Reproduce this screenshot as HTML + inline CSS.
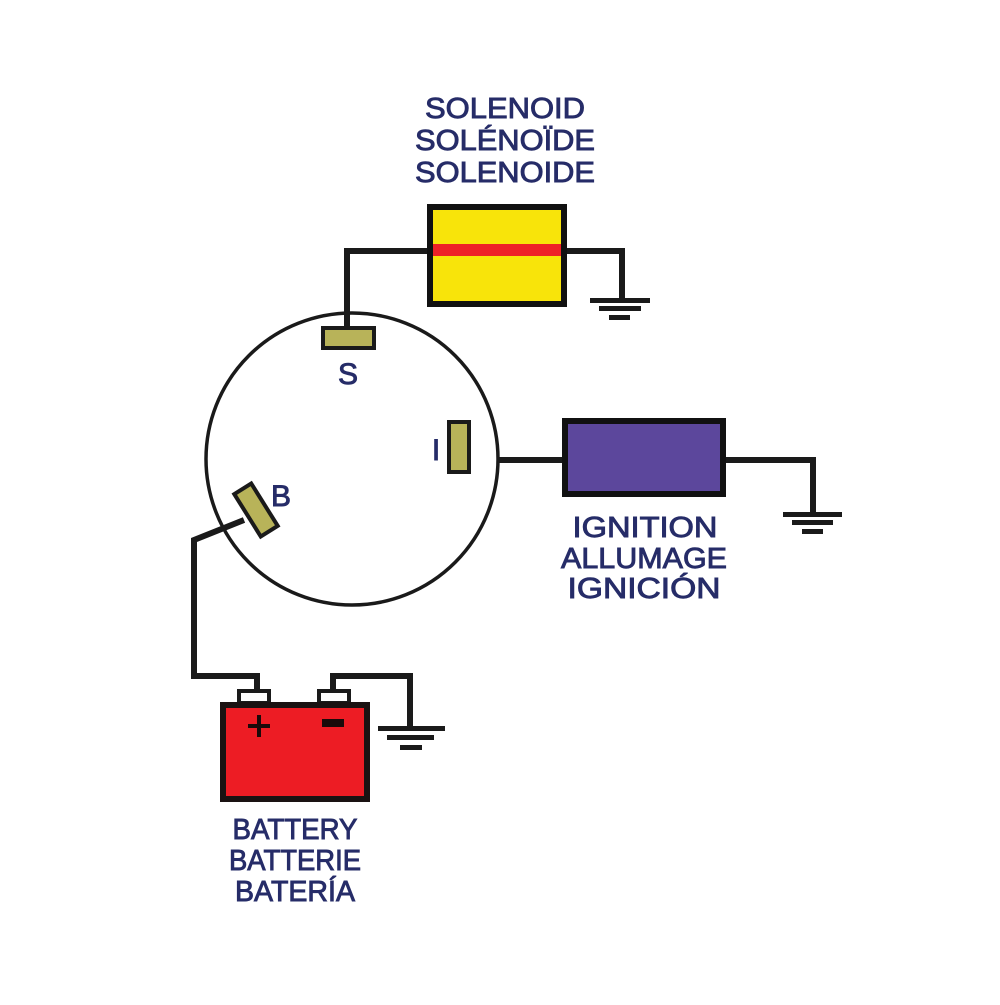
<!DOCTYPE html>
<html><head><meta charset="utf-8"><style>html,body{margin:0;padding:0;background:#fff}</style></head>
<body>
<svg width="1000" height="1000" viewBox="0 0 1000 1000" xmlns="http://www.w3.org/2000/svg">
<rect width="1000" height="1000" fill="#fff"/>
<g font-family="Liberation Sans, sans-serif" font-size="29" fill="#262c68" stroke="#262c68" stroke-width="0.9" text-anchor="middle">
<text x="505" y="118" textLength="160" lengthAdjust="spacingAndGlyphs">SOLENOID</text>
<text x="505" y="150" textLength="180" lengthAdjust="spacingAndGlyphs">SOLÉNOÏDE</text>
<text x="505" y="182" textLength="180" lengthAdjust="spacingAndGlyphs">SOLENOIDE</text>
<text x="645" y="537" textLength="145" lengthAdjust="spacingAndGlyphs">IGNITION</text>
<text x="644" y="568" textLength="166" lengthAdjust="spacingAndGlyphs">ALLUMAGE</text>
<text x="644" y="598" textLength="153" lengthAdjust="spacingAndGlyphs">IGNICIÓN</text>
<text x="295" y="839" textLength="125" lengthAdjust="spacingAndGlyphs">BATTERY</text>
<text x="295" y="870" textLength="132" lengthAdjust="spacingAndGlyphs">BATTERIE</text>
<text x="295" y="901" textLength="120" lengthAdjust="spacingAndGlyphs">BATERÍA</text>
<text x="348" y="384" font-size="30">S</text>
<text x="436" y="460" font-size="30">I</text>
<text x="281" y="506" font-size="30">B</text>
</g>
<g fill="none" stroke="#1a1a1a" stroke-width="6">
<polyline points="427,251 347,251 347,330"/>
<polyline points="567,251 622,251 622,301"/>
<polyline points="497,460 562,460"/>
<polyline points="726,460 813,460 813,515"/>
<polyline points="244,520 194,540 194,676 257,676 257,690"/>
<polyline points="333,690 333,676 410,676 410,728"/>
</g>
<circle cx="352" cy="459" r="146" fill="none" stroke="#1a1a1a" stroke-width="3.5"/>
<g fill="#1a1a1a">
<rect x="590" y="298" width="60" height="5"/><rect x="599" y="306" width="42" height="5"/><rect x="609" y="315" width="21" height="5"/>
<rect x="783" y="512" width="59" height="5"/><rect x="792" y="520" width="41" height="5"/><rect x="802" y="529" width="21" height="5"/>
<rect x="378" y="726" width="67" height="5"/><rect x="387" y="735" width="47" height="5"/><rect x="400" y="745" width="22" height="5"/>
</g>
<rect x="430" y="207" width="134" height="97" fill="#f8e40a" stroke="#111" stroke-width="6"/>
<rect x="433" y="244" width="128" height="12" fill="#ee2127"/>
<rect x="565" y="421" width="158" height="73" fill="#5c479c" stroke="#111" stroke-width="6"/>
<rect x="323" y="328" width="51" height="20" fill="#b8b359" stroke="#1a1a1a" stroke-width="4"/>
<rect x="449" y="422" width="20" height="50" fill="#b8b359" stroke="#1a1a1a" stroke-width="4"/>
<rect x="246" y="485" width="20" height="50" fill="#b8b359" stroke="#1a1a1a" stroke-width="4" transform="rotate(-32 256 510)"/>
<rect x="239" y="691" width="30" height="12" fill="#fff" stroke="#1a1a1a" stroke-width="4"/>
<rect x="319" y="691" width="30" height="12" fill="#fff" stroke="#1a1a1a" stroke-width="4"/>
<rect x="223" y="705" width="144" height="94" fill="#ed1c24" stroke="#1a1212" stroke-width="6"/>
<rect x="248" y="724" width="22" height="4" fill="#1a0a0a"/><rect x="257" y="715" width="4" height="22" fill="#1a0a0a"/>
<rect x="322" y="719" width="22" height="8" fill="#1a0a0a"/>
</svg>
</body></html>
